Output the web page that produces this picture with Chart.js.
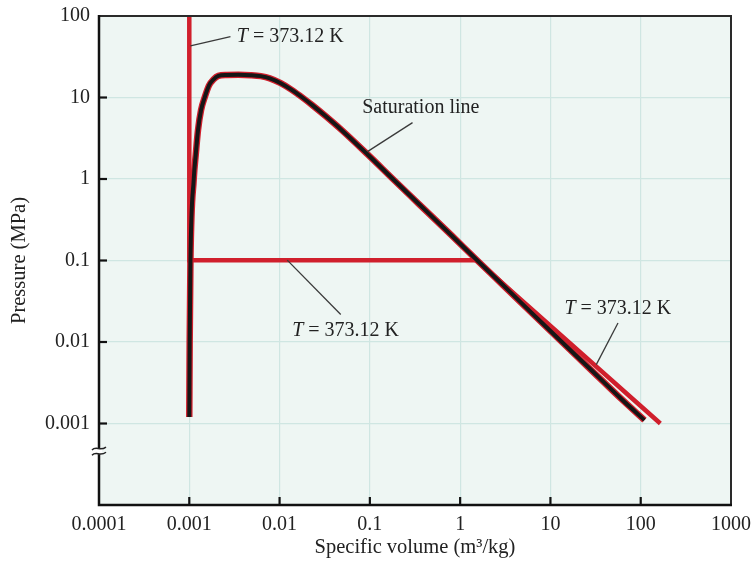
<!DOCTYPE html>
<html><head><meta charset="utf-8">
<script src="https://cdn.jsdelivr.net/npm/chart.js@4.4.0/dist/chart.umd.min.js"></script>
<style>html,body{margin:0;padding:0;background:#fff}#wrap{width:753px;height:563px}</style>
</head><body><div id="wrap"><canvas id="c" width="753" height="563"></canvas></div>
<script>
// ---- data ----
const xTicks = [0.0001, 0.001, 0.01, 0.1, 1, 10, 100, 1000];
const xTickLabels = ['0.0001', '0.001', '0.01', '0.1', '1', '10', '100', '1000'];
const yTicks = [0.001, 0.01, 0.1, 1, 10, 100];
const yTickLabels = ['0.001', '0.01', '0.1', '1', '10', '100'];

// saturation line (specific volume m3/kg, pressure MPa)
const satV = [0.00100, 0.00101, 0.00103, 0.00112, 0.00118, 0.00125, 0.00135, 0.00148, 0.00165, 0.00185, 0.0021, 0.0026, 0.0035, 0.0048, 0.0062, 0.0078, 0.0103, 0.0135, 0.0179, 0.0232, 0.0318, 0.0485, 0.0945, 0.180, 0.345, 0.815, 1.55, 2.98, 7.0, 13.4, 25.8, 61, 110];
const satP = [0.0012, 0.01, 0.1, 1, 2, 4, 7, 10, 14, 16.6, 18.4, 18.9, 19.0, 18.8, 18.3, 17.2, 15, 12.5, 10, 8, 6, 4, 2, 1, 0.5, 0.2, 0.1, 0.05, 0.02, 0.01, 0.005, 0.002, 0.0011];

// isotherm T = 373.12 K
const isoV = [0.001, 0.001, 1.52, 165];
const isoP = [100, 0.101, 0.101, 0.001];

// annotation texts and anchors (data coordinates)
const labelTexts = ['T = 373.12 K', 'Saturation line', 'T = 373.12 K', 'T = 373.12 K'];
const labelV = [0.00336, 0.0822, 0.0138, 14.3];
const labelP = [55.3, 7.46, 0.0139, 0.0255];
const leadFromV = [0.00103, 0.094, 0.01216, 32.2];
const leadFromP = [42.9, 2.17, 0.101, 0.00528];
const leadToV = [0.00286, 0.297, 0.0476, 56];
const leadToP = [55.8, 4.92, 0.0217, 0.0171];
const breakP = 0.000458;

const xTitle = 'Specific volume (m³/kg)';
const yTitle = 'Pressure (MPa)';

const RED = '#d01f2c';
const BLACK = '#161616';
const SERIF = '"Liberation Serif", "Times New Roman", serif';

const pts = (xs, ys) => xs.map((v, i) => ({x: v, y: ys[i]}));

const decor = {
  id: 'decor',
  beforeDraw(chart) {
    const {ctx, chartArea: a} = chart;
    ctx.save();
    ctx.fillStyle = '#ffffff';
    ctx.fillRect(0, 0, chart.width, chart.height);
    ctx.fillStyle = '#eef6f3';
    ctx.fillRect(a.left, a.top, a.right - a.left, a.bottom - a.top);
    ctx.restore();
  },
  afterDraw(chart) {
    const {ctx, chartArea: a, scales} = chart;
    const xs = scales.x, ys = scales.y;
    ctx.save();
    // frame
    ctx.strokeStyle = '#2a2a2a';
    ctx.lineWidth = 2;
    ctx.beginPath();
    ctx.moveTo(a.left, a.top); ctx.lineTo(a.right, a.top); ctx.lineTo(a.right, a.bottom);
    ctx.stroke();
    ctx.strokeStyle = '#111';
    ctx.lineWidth = 2.5;
    ctx.beginPath();
    ctx.moveTo(a.left, a.top - 1); ctx.lineTo(a.left, a.bottom); ctx.lineTo(a.right + 1, a.bottom);
    ctx.stroke();
    // inward ticks
    ctx.lineWidth = 2.2;
    xTicks.forEach(v => {
      if (v <= xTicks[0] || v >= xTicks[xTicks.length - 1]) return;
      const px = xs.getPixelForValue(v);
      ctx.beginPath(); ctx.moveTo(px, a.bottom); ctx.lineTo(px, a.bottom - 8); ctx.stroke();
    });
    yTicks.forEach(v => {
      if (v >= 100) return;
      const py = ys.getPixelForValue(v);
      ctx.beginPath(); ctx.moveTo(a.left, py); ctx.lineTo(a.left + 8, py); ctx.stroke();
    });
    // axis break
    const by = ys.getPixelForValue(breakP);
    ctx.fillStyle = '#ffffff';
    ctx.fillRect(a.left - 3, by - 3, 6, 6);
    ctx.strokeStyle = '#222';
    ctx.lineWidth = 1.5;
    [-2.6, 2.6].forEach(d => {
      const y0 = by + d;
      ctx.beginPath();
      ctx.moveTo(a.left - 7, y0 + 1.5);
      ctx.bezierCurveTo(a.left - 3, y0 - 3, a.left + 1, y0 + 3, a.left + 7, y0 - 1.5);
      ctx.stroke();
    });
    // leader lines
    ctx.strokeStyle = '#3a3a3a';
    ctx.lineWidth = 1.3;
    leadFromV.forEach((v, i) => {
      ctx.beginPath();
      ctx.moveTo(xs.getPixelForValue(v), ys.getPixelForValue(leadFromP[i]));
      ctx.lineTo(xs.getPixelForValue(leadToV[i]), ys.getPixelForValue(leadToP[i]));
      ctx.stroke();
    });
    // labels
    ctx.fillStyle = '#222';
    ctx.textBaseline = 'middle';
    ctx.textAlign = 'left';
    labelTexts.forEach((t, i) => {
      let x = xs.getPixelForValue(labelV[i]);
      const y = ys.getPixelForValue(labelP[i]);
      if (t.startsWith('T ')) {
        ctx.font = 'italic 20px ' + SERIF;
        ctx.fillText('T', x, y);
        x += ctx.measureText('T').width;
        ctx.font = '20px ' + SERIF;
        ctx.fillText(t.slice(1), x, y);
      } else {
        ctx.font = '20px ' + SERIF;
        ctx.fillText(t, x, y);
      }
    });
    // axis titles
    ctx.font = '20.5px ' + SERIF;
    ctx.textAlign = 'center';
    ctx.fillText(xTitle, (a.left + a.right) / 2, 548);
    ctx.save();
    ctx.translate(20, (a.top + a.bottom) / 2);
    ctx.rotate(-Math.PI / 2);
    ctx.fillText(yTitle, 0, 0);
    ctx.restore();
    ctx.restore();
  }
};

new Chart(document.getElementById('c'), {
  type: 'line',
  data: {
    datasets: [
      {label: 'sat', data: pts(satV, satP), borderColor: BLACK, borderWidth: 4, pointRadius: 0,
       cubicInterpolationMode: 'monotone', fill: false, order: 0},
      {label: 'satEdge', data: pts(satV, satP), borderColor: RED, borderWidth: 6.5, pointRadius: 0,
       cubicInterpolationMode: 'monotone', fill: false, order: 1},
      {label: 'iso', data: pts(isoV, isoP), borderColor: RED, borderWidth: 4.5, pointRadius: 0,
       tension: 0, fill: false, order: 2, borderJoinStyle: 'miter'}
    ]
  },
  options: {
    responsive: false,
    animation: false,
    devicePixelRatio: 1,
    layout: {padding: {top: 16, right: 22, left: 0, bottom: 0}},
    plugins: {legend: {display: false}, tooltip: {enabled: false}},
    scales: {
      x: {
        type: 'logarithmic', min: 0.0001, max: 1000,
        afterBuildTicks: s => { s.ticks = xTicks.map(v => ({value: v})); },
        afterFit: s => { s.height = 58; s.paddingLeft = 0; s.paddingRight = 0; },
        ticks: {
          autoSkip: false, maxRotation: 0, padding: 8, color: '#222',
          font: {family: SERIF, size: 20},
          callback: (val) => { const i = xTicks.findIndex(t => Math.abs(Math.log10(t) - Math.log10(val)) < 1e-6); return i >= 0 ? xTickLabels[i] : ''; }
        },
        grid: {color: '#cfe6e2', lineWidth: 1.2, drawTicks: false},
        border: {display: false}
      },
      y: {
        type: 'logarithmic', min: 0.0001, max: 100,
        afterBuildTicks: s => { s.ticks = yTicks.map(v => ({value: v})); },
        afterFit: s => { s.width = 99; s.paddingTop = 0; s.paddingBottom = 0; },
        ticks: {
          autoSkip: false, padding: 9, color: '#222',
          font: {family: SERIF, size: 20},
          callback: (val) => { const i = yTicks.findIndex(t => Math.abs(Math.log10(t) - Math.log10(val)) < 1e-6); return i >= 0 ? yTickLabels[i] : ''; }
        },
        grid: {color: '#cfe6e2', lineWidth: 1.2, drawTicks: false},
        border: {display: false}
      }
    }
  },
  plugins: [decor]
});
</script></body></html>
